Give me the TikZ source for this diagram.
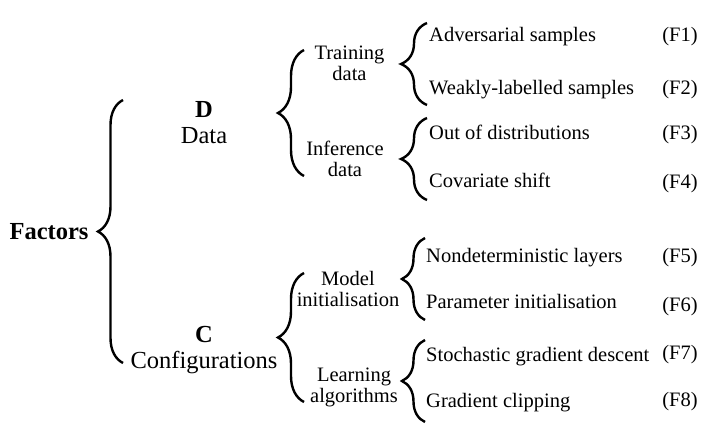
\documentclass[tikz,border=0pt]{standalone}
\usepackage{fontspec}
\setmainfont{Liberation Serif}
\usetikzlibrary{decorations.pathreplacing}

\begin{document}
\begin{tikzpicture}[x=1pt, y=-1pt,
        big/.style={font=\fontsize{24.5}{26}\selectfont, inner sep=0pt, align=center},
        mid/.style={font=\fontsize{20.5}{21}\selectfont, inner sep=0pt, align=center},
        item/.style={font=\fontsize{20.5}{22}\selectfont, inner sep=0pt, anchor=base west},
        tag/.style={font=\fontsize{20.5}{22}\selectfont, inner sep=0pt, anchor=base},
        brc/.style={decorate, decoration={brace, amplitude=#1}, line width=2.4pt}]
        \useasboundingbox (0,0) rectangle (724,433);

        % Root
        \node[big, anchor=base] (factors) at (49,240) {\textbf{Factors}};
        \coordinate (rootT) at (123,100);
        \coordinate (rootB) at (123,363);
        \draw[brc=25pt] (rootB) -- (rootT);

        % D and C
        \node[big] (data) at (204,123) {\textbf{D}\\Data};
        \node[big] (conf) at (204,350.5) {\textbf{C}\\Configurations};

        % Data branch
        \coordinate (dataT) at (304,50);
        \coordinate (dataB) at (304,176);
        \draw[brc=26pt] (dataB) -- (dataT);
        \node[mid] (train) at (349.5,63.5) {Training\\data};
        \node[mid] (infer) at (345,158.5) {Inference\\data};

        % Configurations branch
        \coordinate (confT) at (304,273);
        \coordinate (confB) at (304,402);
        \draw[brc=26pt] (confB) -- (confT);
        \node[mid] (model) at (348,288.5) {Model\\initialisation};
        \node[mid] (learn) at (354,387.5) {Learning\\algorithms};

        % Training data
        \coordinate (trainT) at (427,23);
        \coordinate (trainB) at (427,105);
        \draw[brc=26pt] (trainB) -- (trainT);
        \node[item] (f1) at (429,42) {Adversarial samples};
        \node[item] (f2) at (429,95) {Weakly-labelled samples};

        % Inference data
        \coordinate (inferT) at (427,118);
        \coordinate (inferB) at (427,200);
        \draw[brc=26pt] (inferB) -- (inferT);
        \node[item] (f3) at (429,140) {Out of distributions};
        \node[item] (f4) at (429,188) {Covariate shift};

        % Model initialisation
        \coordinate (modelT) at (425,238);
        \coordinate (modelB) at (425,320);
        \draw[brc=23pt] (modelB) -- (modelT);
        \node[item] (f5) at (426,262) {Nondeterministic layers};
        \node[item] (f6) at (426,308.5) {Parameter initialisation};

        % Learning algorithms
        \coordinate (learnT) at (425,340);
        \coordinate (learnB) at (425,422);
        \draw[brc=23pt] (learnB) -- (learnT);
        \node[item] (f7) at (426,361) {Stochastic gradient descent};
        \node[item] (f8) at (426,407) {Gradient clipping};

        % Tags
        \node[tag] (t1) at (680,41.5) {(F1)};
        \node[tag] (t2) at (680,94.5) {(F2)};
        \node[tag] (t3) at (680,139.5) {(F3)};
        \node[tag] (t4) at (680,188.5) {(F4)};
        \node[tag] (t5) at (680,262) {(F5)};
        \node[tag] (t6) at (680,311.5) {(F6)};
        \node[tag] (t7) at (680,359.5) {(F7)};
        \node[tag] (t8) at (680,406.5) {(F8)};
    \end{tikzpicture}
\end{document}
